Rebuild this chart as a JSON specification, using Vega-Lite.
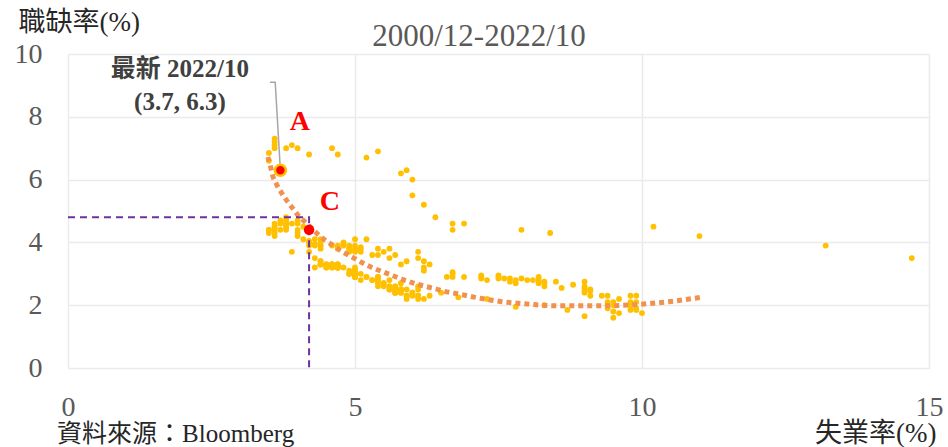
{
  "$schema": "https://vega.github.io/schema/vega-lite/v6.json",
  "width": 861,
  "height": 314,
  "autosize": "none",
  "padding": {"left": 68, "top": 54, "right": 19, "bottom": 79},
  "background": "white",
  "config": {"view": {"stroke": null}, "font": "'Liberation Serif', serif"},
  "datasets": {
    "pts": [
      {"u":3.9,"v":3.7},
      {"u":4.2,"v":3.9},{"u":4.2,"v":3.7},{"u":4.3,"v":3.5},{"u":4.4,"v":3.4},{"u":4.3,"v":3.2},{"u":4.5,"v":3.2},{"u":4.6,"v":3.3},{"u":4.9,"v":3.0},{"u":5.0,"v":2.9},{"u":5.3,"v":2.8},{"u":5.5,"v":2.7},{"u":5.7,"v":2.6},
      {"u":5.7,"v":2.6},{"u":5.7,"v":2.5},{"u":5.7,"v":2.4},{"u":5.9,"v":2.5},{"u":5.8,"v":2.5},{"u":5.8,"v":2.4},{"u":5.8,"v":2.5},{"u":5.7,"v":2.4},{"u":5.7,"v":2.5},{"u":5.7,"v":2.5},{"u":5.9,"v":2.3},{"u":6.0,"v":2.4},
      {"u":5.8,"v":2.5},{"u":5.9,"v":2.3},{"u":5.9,"v":2.2},{"u":6.0,"v":2.3},{"u":6.1,"v":2.3},{"u":6.3,"v":2.3},{"u":6.2,"v":2.2},{"u":6.1,"v":2.3},{"u":6.1,"v":2.2},{"u":6.0,"v":2.4},{"u":5.8,"v":2.4},{"u":5.7,"v":2.5},
      {"u":5.7,"v":2.4},{"u":5.6,"v":2.5},{"u":5.8,"v":2.5},{"u":5.6,"v":2.6},{"u":5.6,"v":2.6},{"u":5.6,"v":2.5},{"u":5.5,"v":2.6},{"u":5.4,"v":2.7},{"u":5.4,"v":2.6},{"u":5.5,"v":2.7},{"u":5.4,"v":2.8},{"u":5.4,"v":2.9},
      {"u":5.3,"v":2.8},{"u":5.4,"v":2.8},{"u":5.2,"v":2.9},{"u":5.2,"v":2.9},{"u":5.1,"v":2.8},{"u":5.0,"v":2.9},{"u":5.0,"v":3.0},{"u":4.9,"v":3.0},{"u":5.0,"v":3.1},{"u":5.0,"v":3.0},{"u":5.0,"v":3.2},{"u":4.9,"v":3.1},
      {"u":4.7,"v":3.2},{"u":4.8,"v":3.2},{"u":4.7,"v":3.3},{"u":4.7,"v":3.3},{"u":4.6,"v":3.2},{"u":4.6,"v":3.3},{"u":4.7,"v":3.3},{"u":4.7,"v":3.2},{"u":4.5,"v":3.3},{"u":4.4,"v":3.3},{"u":4.5,"v":3.2},{"u":4.4,"v":3.3},
      {"u":4.6,"v":3.3},{"u":4.5,"v":3.3},{"u":4.4,"v":3.4},{"u":4.5,"v":3.3},{"u":4.4,"v":3.3},{"u":4.6,"v":3.3},{"u":4.7,"v":3.2},{"u":4.6,"v":3.2},{"u":4.7,"v":3.2},{"u":4.7,"v":3.2},{"u":4.7,"v":3.2},{"u":5.0,"v":3.1},
      {"u":5.0,"v":3.1},{"u":4.9,"v":3.0},{"u":5.1,"v":3.0},{"u":5.0,"v":2.9},{"u":5.4,"v":2.9},{"u":5.6,"v":2.8},{"u":5.8,"v":2.7},{"u":6.1,"v":2.6},{"u":6.1,"v":2.5},{"u":6.5,"v":2.4},{"u":6.8,"v":2.25},{"u":7.3,"v":2.2},
      {"u":7.8,"v":1.95},{"u":8.3,"v":2.0},{"u":8.7,"v":1.85},{"u":9.0,"v":1.65},{"u":9.4,"v":1.9},{"u":9.5,"v":1.6},{"u":9.5,"v":1.8},{"u":9.6,"v":1.75},{"u":9.8,"v":1.85},{"u":10.0,"v":1.75},{"u":9.9,"v":1.85},{"u":9.9,"v":1.9},
      {"u":9.8,"v":2.0},{"u":9.8,"v":2.1},{"u":9.9,"v":2.1},{"u":9.9,"v":2.3},{"u":9.6,"v":2.2},{"u":9.4,"v":2.1},{"u":9.4,"v":2.0},{"u":9.5,"v":2.0},{"u":9.5,"v":2.1},{"u":9.4,"v":2.3},{"u":9.8,"v":2.3},{"u":9.3,"v":2.3},
      {"u":9.1,"v":2.3},{"u":9.0,"v":2.4},{"u":9.0,"v":2.45},{"u":9.1,"v":2.5},{"u":9.0,"v":2.55},{"u":9.1,"v":2.45},{"u":9.0,"v":2.6},{"u":9.0,"v":2.5},{"u":9.0,"v":2.75},{"u":8.8,"v":2.65},{"u":8.6,"v":2.55},{"u":8.5,"v":2.75},
      {"u":8.3,"v":2.7},{"u":8.3,"v":2.6},{"u":8.2,"v":2.9},{"u":8.2,"v":2.7},{"u":8.2,"v":2.8},{"u":8.2,"v":2.75},{"u":8.3,"v":2.75},{"u":8.1,"v":2.8},{"u":7.8,"v":2.7},{"u":7.8,"v":2.8},{"u":7.7,"v":2.75},{"u":7.9,"v":2.85},
      {"u":8.0,"v":2.8},{"u":7.7,"v":2.85},{"u":7.5,"v":2.9},{"u":7.6,"v":2.85},{"u":7.5,"v":2.95},{"u":7.5,"v":2.85},{"u":7.3,"v":2.8},{"u":7.2,"v":2.9},{"u":7.2,"v":2.85},{"u":7.2,"v":2.95},{"u":6.9,"v":2.9},{"u":6.7,"v":3.0},
      {"u":6.6,"v":2.9},{"u":6.7,"v":2.9},{"u":6.7,"v":3.05},{"u":6.2,"v":3.1},{"u":6.3,"v":3.3},{"u":6.2,"v":3.4},{"u":6.2,"v":3.2},{"u":6.1,"v":3.7},{"u":5.9,"v":3.4},{"u":6.1,"v":3.5},{"u":5.8,"v":3.3},{"u":5.6,"v":3.5},
      {"u":5.7,"v":3.6},{"u":5.5,"v":3.7},{"u":5.4,"v":3.6},{"u":5.4,"v":3.8},{"u":5.6,"v":3.8},{"u":5.3,"v":3.6},{"u":5.2,"v":4.1},{"u":5.1,"v":3.7},{"u":5.0,"v":4.1},{"u":5.0,"v":3.7},{"u":5.1,"v":3.8},{"u":5.0,"v":3.8},
      {"u":4.8,"v":3.9},{"u":4.9,"v":3.8},{"u":5.0,"v":3.9},{"u":5.1,"v":3.85},{"u":4.8,"v":4.0},{"u":4.9,"v":3.9},{"u":4.8,"v":3.95},{"u":4.9,"v":3.7},{"u":5.0,"v":3.75},{"u":4.9,"v":3.8},{"u":4.7,"v":3.8},{"u":4.7,"v":3.9},
      {"u":4.7,"v":3.85},{"u":4.6,"v":3.9},{"u":4.4,"v":3.8},{"u":4.4,"v":3.9},{"u":4.4,"v":4.0},{"u":4.3,"v":4.1},{"u":4.3,"v":3.9},{"u":4.4,"v":4.1},{"u":4.3,"v":3.95},{"u":4.2,"v":4.0},{"u":4.2,"v":4.05},{"u":4.1,"v":4.1},
      {"u":4.0,"v":4.2},{"u":4.1,"v":4.5},{"u":4.0,"v":4.3},{"u":4.0,"v":4.4},{"u":3.8,"v":4.5},{"u":4.0,"v":4.6},{"u":3.8,"v":4.6},{"u":3.8,"v":4.7},{"u":3.7,"v":4.7},{"u":3.8,"v":4.6},{"u":3.8,"v":4.8},{"u":3.9,"v":4.6},
      {"u":4.0,"v":4.7},{"u":3.8,"v":4.5},{"u":3.8,"v":4.4},{"u":3.7,"v":4.6},{"u":3.6,"v":4.5},{"u":3.6,"v":4.6},{"u":3.7,"v":4.4},{"u":3.6,"v":4.5},{"u":3.5,"v":4.4},{"u":3.6,"v":4.3},{"u":3.6,"v":4.4},{"u":3.6,"v":4.2},
      {"u":3.5,"v":4.4},{"u":3.5,"v":4.3},{"u":4.4,"v":3.9},{"u":14.7,"v":3.5},{"u":13.2,"v":3.9},{"u":11.0,"v":4.2},{"u":10.2,"v":4.5},{"u":8.4,"v":4.3},{"u":7.9,"v":4.4},{"u":6.9,"v":4.6},{"u":6.7,"v":4.6},{"u":6.7,"v":4.4},
      {"u":6.4,"v":4.8},{"u":6.2,"v":5.2},{"u":6.0,"v":5.5},{"u":6.0,"v":6.0},{"u":5.8,"v":6.2},{"u":5.9,"v":6.3},{"u":5.4,"v":6.9},{"u":5.2,"v":6.7},{"u":4.7,"v":6.8},{"u":4.6,"v":7.0},{"u":4.2,"v":6.8},{"u":3.9,"v":7.1},
      {"u":4.0,"v":7.0},{"u":3.8,"v":7.0},{"u":3.6,"v":7.3},{"u":3.6,"v":7.2},{"u":3.6,"v":7.1},{"u":3.6,"v":7.0},{"u":3.5,"v":6.85},{"u":3.5,"v":6.6},{"u":3.7,"v":6.3}
    ],
    "trend": [
      {"u":3.48,"v":6.72},{"u":3.52,"v":6.48},{"u":3.56,"v":6.16},{"u":3.63,"v":5.86},{"u":3.72,"v":5.58},{"u":3.80,"v":5.36},{"u":3.90,"v":5.12},{"u":4.0,"v":4.88},{"u":4.12,"v":4.67},{"u":4.36,"v":4.25},{"u":4.48,"v":4.07},{"u":4.62,"v":3.9},{"u":4.74,"v":3.75},{"u":4.88,"v":3.6},{"u":5.03,"v":3.45},{"u":5.17,"v":3.31},{"u":5.32,"v":3.18},{"u":5.46,"v":3.08},{"u":5.62,"v":2.97},{"u":5.77,"v":2.86},{"u":5.93,"v":2.76},{"u":6.08,"v":2.67},{"u":6.25,"v":2.59},{"u":6.40,"v":2.52},{"u":6.56,"v":2.44},{"u":6.71,"v":2.39},{"u":7.1,"v":2.25},{"u":7.53,"v":2.12},{"u":8.0,"v":2.04},{"u":8.48,"v":1.98},{"u":9.3,"v":1.98},{"u":9.97,"v":2.03},{"u":10.5,"v":2.12},{"u":11.07,"v":2.26}
    ],
    "guide": [
      {"u":0,"v":4.8,"o":1},{"u":4.2,"v":4.8,"o":2},{"u":4.2,"v":0,"o":3}
    ],
    "leader": [
      {"u":3.52,"v":9.1,"o":1},{"u":3.61,"v":9.1,"o":2},{"u":3.7,"v":6.3,"o":3}
    ],
    "red": [
      {"u":3.7,"v":6.3,"k":"A"},{"u":4.2,"v":4.4,"k":"C"}
    ],
    "letters": [
      {"u":4.04,"v":7.85,"label":"A"},{"u":4.56,"v":5.3,"label":"C"}
    ],
    "note": [
      {"u":1.95,"v":9.51,"label":"最新 2022/10"},{"u":1.95,"v":8.46,"label":"(3.7, 6.3)"}
    ],
    "head": [
      {"u":7.16,"v":10.53,"label":"2000/12-2022/10"}
    ],
    "source": [
      {"u":-0.19,"v":-2.1,"label":"資料來源：Bloomberg"}
    ]
  },
  "encoding": {
    "x": {
      "field": "u", "type": "quantitative",
      "scale": {"domain": [0, 15], "nice": false, "zero": false},
      "axis": {
        "values": [0, 5, 10, 15], "grid": true, "gridColor": "#EBEBEB", "gridWidth": 1.5,
        "domain": false, "ticks": false, "labelFlush": false,
        "labelFont": "'Liberation Serif', serif", "labelFontSize": 28, "labelColor": "#595959", "labelPadding": 25,
        "title": "失業率(%)", "titleFont": "'Liberation Serif', 'Noto Sans CJK TC', serif", "titleFontSize": 27,
        "titleFontWeight": "normal", "titleColor": "#262626",
        "titleX": 868, "titleY": 65, "titleAlign": "right", "titleBaseline": "middle", "titleAngle": 0
      }
    },
    "y": {
      "field": "v", "type": "quantitative",
      "scale": {"domain": [0, 10], "nice": false, "zero": false},
      "axis": {
        "values": [0, 2, 4, 6, 8, 10], "grid": true, "gridColor": "#EBEBEB", "gridWidth": 1.5,
        "domain": false, "ticks": false, "labelFlush": false,
        "labelFont": "'Liberation Serif', serif", "labelFontSize": 28, "labelColor": "#595959", "labelPadding": 26,
        "title": "職缺率(%)", "titleFont": "'Liberation Serif', 'Noto Sans CJK TC', serif", "titleFontSize": 27,
        "titleFontWeight": "normal", "titleColor": "#262626",
        "titleX": -50, "titleY": -32, "titleAlign": "left", "titleBaseline": "middle", "titleAngle": 0
      }
    }
  },
  "layer": [
    {"data": {"name": "pts"}, "mark": {"type": "circle", "size": 34, "color": "#FFC000", "opacity": 1}},
    {"data": {"name": "trend"}, "mark": {"type": "line", "interpolate": "monotone", "color": "#F0914F", "strokeWidth": 5, "strokeDash": [5, 4], "strokeCap": "butt"}},
    {"data": {"name": "guide"}, "mark": {"type": "line", "color": "#7030A0", "strokeWidth": 2, "strokeDash": [7, 5]}, "encoding": {"order": {"field": "o"}}},
    {"data": {"name": "leader"}, "mark": {"type": "line", "color": "#A6A6A6", "strokeWidth": 1.5}, "encoding": {"order": {"field": "o"}}},
    {"data": {"name": "red"}, "transform": [{"filter": "datum.k == 'A'"}], "mark": {"type": "circle", "size": 120, "color": "#FF0000", "opacity": 1, "stroke": "#FFC000", "strokeWidth": 2.5}},
    {"data": {"name": "red"}, "transform": [{"filter": "datum.k == 'C'"}], "mark": {"type": "circle", "size": 110, "color": "#FF0000", "opacity": 1}},
    {"data": {"name": "letters"}, "mark": {"type": "text", "font": "'Liberation Serif', serif", "fontSize": 28, "fontWeight": "bold", "color": "#FF0000", "align": "center", "baseline": "middle"}, "encoding": {"text": {"field": "label"}}},
    {"data": {"name": "note"}, "mark": {"type": "text", "font": "'Liberation Serif', 'Noto Sans CJK TC', serif", "fontSize": 25, "fontWeight": "bold", "color": "#404040", "align": "center", "baseline": "middle"}, "encoding": {"text": {"field": "label"}}},
    {"data": {"name": "head"}, "mark": {"type": "text", "font": "'Liberation Serif', serif", "fontSize": 31, "color": "#595959", "align": "center", "baseline": "middle"}, "encoding": {"text": {"field": "label"}}},
    {"data": {"name": "source"}, "mark": {"type": "text", "font": "'Liberation Serif', 'Noto Sans CJK TC', serif", "fontSize": 25, "color": "#262626", "align": "left", "baseline": "middle"}, "encoding": {"text": {"field": "label"}}}
  ]
}
